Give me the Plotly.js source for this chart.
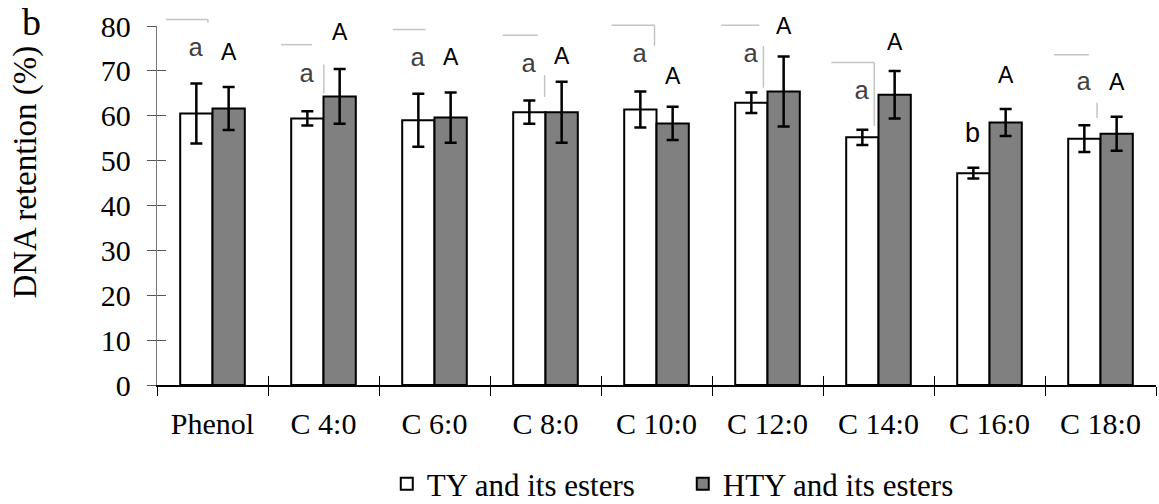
<!DOCTYPE html>
<html>
<head>
<meta charset="utf-8">
<script src="https://cdn.plot.ly/plotly-3.0.1.min.js"></script>
<style>html,body{margin:0;padding:0;background:#fff;}#chart{width:1159px;height:504px;}</style>
</head>
<body>
<div id="chart"></div>
<script>
// ---- data ----
const categories = ['Phenol', 'C 4:0', 'C 6:0', 'C 8:0', 'C 10:0', 'C 12:0', 'C 14:0', 'C 16:0', 'C 18:0'];
const tyValues   = [60.5, 59.4, 59.0, 60.8, 61.4, 62.9, 55.2, 47.2, 54.9];
const tyErrors   = [6.7, 1.6, 5.9, 2.6, 4.0, 2.3, 1.7, 1.2, 3.0];
const htyValues  = [61.6, 64.3, 59.6, 60.8, 58.3, 65.4, 64.7, 58.5, 56.0];
const htyErrors  = [4.8, 6.1, 5.6, 6.8, 3.7, 7.8, 5.3, 3.0, 3.8];
const tyLetters  = ['a', 'a', 'a', 'a', 'a', 'a', 'a', 'b', 'a'];
const htyLetters = ['A', 'A', 'A', 'A', 'A', 'A', 'A', 'A', 'A'];
const tyLetterY  = [74.9, 69.0, 72.7, 71.4, 73.6, 73.6, 65.3, 56.2, 67.2];
const htyLetterY = [74.2, 78.6, 73.1, 73.4, 68.8, 79.9, 76.4, 69.0, 67.5];
const seriesNames = ['TY and its esters', 'HTY and its esters'];
const yTitle = 'DNA retention (%)';
const panelLabel = 'b';

// faint grey leftover lines of the original figure (paper coordinates)
const greyLines = [
  [0.009, 1.018, 0.051, 1.018], [0.051, 1.018, 0.051, 1.009],
  [0.124, 0.948, 0.155, 0.948], [0.167, 0.893, 0.167, 0.812],
  [0.236, 0.990, 0.269, 0.990],
  [0.346, 0.974, 0.381, 0.974], [0.388, 0.863, 0.388, 0.802],
  [0.455, 1.002, 0.498, 1.002], [0.498, 1.002, 0.498, 0.944],
  [0.565, 1.002, 0.603, 1.002], [0.607, 0.944, 0.607, 0.828],
  [0.675, 0.898, 0.718, 0.898], [0.718, 0.898, 0.718, 0.722],
  [0.898, 0.920, 0.933, 0.920], [0.941, 0.786, 0.941, 0.744]
];

const serif = 'Liberation Serif, Times New Roman, serif';
const sans = 'Liberation Sans, Arial, sans-serif';

const traces = [
  {
    type: 'bar', name: seriesNames[0], x: categories, y: tyValues,
    marker: {color: '#ffffff', line: {color: '#000000', width: 2}},
    error_y: {type: 'data', array: tyErrors, visible: true, color: '#000000', thickness: 2.5, width: 6}
  },
  {
    type: 'bar', name: seriesNames[1], x: categories, y: htyValues,
    marker: {color: '#808080', line: {color: '#000000', width: 2}},
    error_y: {type: 'data', array: htyErrors, visible: true, color: '#000000', thickness: 2.5, width: 6}
  },
  {type: 'scatter', x: [], y: [], xaxis: 'x2', yaxis: 'y2', showlegend: false, hoverinfo: 'skip'}
];

function letterAnn(letter, i, y, shift) {
  const lower = letter === 'a';
  return {
    x: categories[i], y: y, xref: 'x', yref: 'y', text: letter, showarrow: false,
    xshift: shift, xanchor: 'center', yanchor: 'middle',
    font: lower ? {family: 'Liberation Mono, Courier New, monospace', size: 26, color: '#404040'}
                : {family: sans, size: letter === 'b' ? 27 : 23, color: '#000000'}
  };
}

const annotations = [];
categories.forEach((c, i) => {
  annotations.push(letterAnn(tyLetters[i], i, tyLetterY[i], -17));
  annotations.push(letterAnn(htyLetters[i], i, htyLetterY[i], 16));
});
annotations.push({
  xref: 'paper', yref: 'paper', x: -0.132, y: 0.592, xanchor: 'center', yanchor: 'middle',
  text: yTitle, textangle: -90,
  showarrow: false, font: {family: serif, size: 33, color: '#000000'}
});
annotations.push({
  xref: 'paper', yref: 'paper', x: -0.126, y: 1.011, xanchor: 'center', yanchor: 'middle',
  text: panelLabel,
  showarrow: false, font: {family: serif, size: 38, color: '#000000'}
});

const shapes = greyLines.map(l => ({
  type: 'line', xref: 'paper', yref: 'paper', x0: l[0], y0: l[1], x1: l[2], y1: l[3],
  line: {color: '#c4c4c4', width: 1.5}
}));

const layout = {
  width: 1159, height: 504,
  margin: {l: 157, r: 3, t: 25.5, b: 118.5, autoexpand: false},
  paper_bgcolor: '#ffffff', plot_bgcolor: '#ffffff',
  barmode: 'group', bargap: 0.418, bargroupgap: 0,
  showlegend: true,
  font: {family: serif, color: '#000000'},
  xaxis: {
    type: 'category', range: [-0.5, 8.5], tickson: 'boundaries',
    ticks: 'outside', ticklen: 9, tickwidth: 1, tickcolor: '#000000',
    showline: true, linecolor: '#000000', linewidth: 1.5,
    showgrid: false, zeroline: false,
    tickfont: {family: serif, size: 30, color: '#000000'},
    ticklabelstandoff: 11
  },
  xaxis2: {
    overlaying: 'x', anchor: 'y', range: [-0.5, 8.5], tick0: 0.5, dtick: 1,
    ticks: 'inside', ticklen: 9, tickwidth: 1, tickcolor: '#000000',
    showticklabels: false, showgrid: false, zeroline: false, showline: false
  },
  yaxis: {
    range: [0, 80], tick0: 0, dtick: 10,
    ticks: 'outside', ticklen: 9, tickwidth: 1, tickcolor: '#555555',
    showline: true, linecolor: '#777777', linewidth: 1.2,
    showgrid: false, zeroline: false,
    tickfont: {family: serif, size: 30, color: '#000000'},
    ticklabelstandoff: 10
  },
  yaxis2: {
    overlaying: 'y', anchor: 'x', range: [0, 80], tick0: 0, dtick: 10,
    ticks: 'inside', ticklen: 9, tickwidth: 1, tickcolor: '#555555', side: 'left',
    showticklabels: false, showgrid: false, zeroline: false, showline: false
  },
  legend: {
    orientation: 'h', x: 0.230, xanchor: 'left', y: -0.276, yanchor: 'middle',
    entrywidth: 251, entrywidthmode: 'pixels',
    font: {family: serif, size: 31, color: '#000000'},
    bgcolor: 'rgba(0,0,0,0)'
  },
  annotations: annotations,
  shapes: shapes
};

Plotly.newPlot('chart', traces, layout, {displayModeBar: false, staticPlot: true});
</script>
</body>
</html>
